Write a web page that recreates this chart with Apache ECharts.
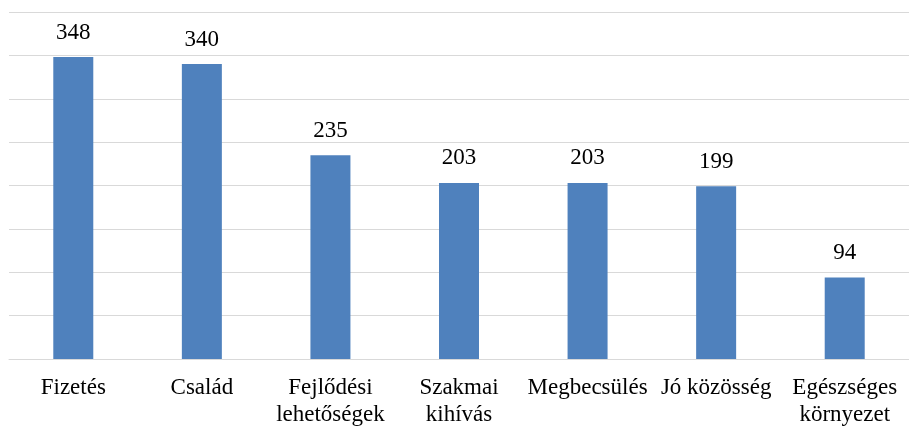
<!DOCTYPE html>
<html>
<head>
<meta charset="utf-8">
<script src="https://cdn.jsdelivr.net/npm/echarts@6/dist/echarts.min.js"></script>
<style>
  html, body { margin: 0; padding: 0; background: #fff; }
  #chart { width: 909px; height: 428px; }
</style>
</head>
<body>
<div id="chart"></div>
<script>
// kategóriák és értékek
const categories = ["Fizetés", "Család", "Fejlődési\nlehetőségek", "Szakmai\nkihívás", "Megbecsülés", "Jó közösség", "Egészséges\nkörnyezet"];
const values = [348, 340, 235, 203, 203, 199, 94];

const chart = echarts.init(document.getElementById("chart"));
const option = {
  animation: false,
  textStyle: { fontFamily: "Liberation Serif" },
  grid: { left: 9, right: 0, top: 12, bottom: 67, containLabel: false },
  xAxis: {
    type: "category",
    data: categories,
    axisLine: { lineStyle: { color: "#d9d9d9", width: 1 } },
    axisTick: { show: false },
    axisLabel: {
      interval: 0,
      color: "#000",
      fontSize: 23,
      lineHeight: 27,
      margin: 15,
      fontFamily: "Liberation Serif"
    }
  },
  yAxis: {
    type: "value",
    min: 0,
    max: 400,
    interval: 50,
    axisLabel: { show: false },
    axisLine: { show: false },
    axisTick: { show: false },
    splitLine: { lineStyle: { color: "#d9d9d9", width: 1 } }
  },
  series: [{
    type: "bar",
    data: values,
    barWidth: 40,
    itemStyle: { color: "#4f81bd" },
    label: {
      show: true,
      position: "top",
      distance: 13,
      color: "#000",
      fontSize: 23,
      fontFamily: "Liberation Serif"
    }
  }]
};
chart.setOption(option);
</script>
</body>
</html>
